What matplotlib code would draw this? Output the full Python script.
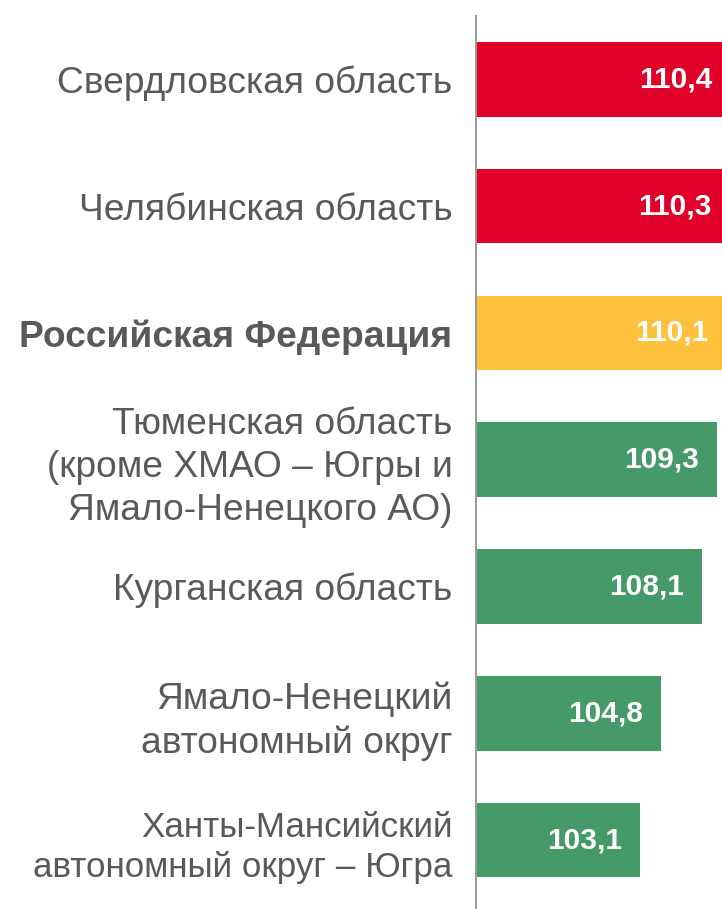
import matplotlib
matplotlib.use("Agg")
import matplotlib.pyplot as plt

# Data (top to bottom, as drawn)
regions = [
    "Свердловская область",
    "Челябинская область",
    "Российская Федерация",
    "Тюменская область\n(кроме ХМАО – Югры и\nЯмало-Ненецкого АО)",
    "Курганская область",
    "Ямало-Ненецкий\nавтономный округ",
    "Ханты-Мансийский\nавтономный округ – Югра",
]
values = [110.4, 110.3, 110.1, 109.3, 108.1, 104.8, 103.1]
labels = ["110,4", "110,3", "110,1", "109,3", "108,1", "104,8", "103,1"]

RED = "#E1002A"
YELLOW = "#FEC13D"
GREEN = "#469A67"
TEXT = "#595959"
colors = [RED, RED, YELLOW, GREEN, GREEN, GREEN, GREEN]

BASE = 89.8  # bars start here (axis is not zero-based)

plt.rcParams["font.family"] = ["Liberation Sans", "DejaVu Sans"]

W, H = 722, 909
fig = plt.figure(figsize=(W / 100, H / 100), dpi=100)
# axes: left at x=476px, right at figure edge, top at y=16px
ax = fig.add_axes([476 / W, 0, 1 - 476 / W, (H - 16) / H])

pos = list(range(len(values)))
ax.barh(pos, [v - BASE for v in values], left=BASE, height=0.588, color=colors)

ax.set_xlim(BASE, BASE + 246 / 12.35)
ax.set_ylim(6.544, -0.5)

for p, v, t in zip(pos, values, labels):
    ax.annotate(t, (v, p), xytext=(-18, 0), textcoords="offset pixels",
                ha="right", va="center", color="white", fontsize=21.5,
                fontweight="bold", annotation_clip=False)

ax.set_yticks(pos)
ax.set_yticklabels(regions, fontsize=26.7, color=TEXT, linespacing=1.3)
for tl, name in zip(ax.get_yticklabels(), regions):
    tl.set_multialignment("right")
    if name == "Российская Федерация":
        tl.set_fontweight("bold")
    if name.startswith("Ханты"):
        tl.set_fontsize(25.2)
ax.tick_params(axis="y", length=0, pad=17)
ax.set_xticks([])

for s in ["top", "right", "bottom"]:
    ax.spines[s].set_visible(False)
ax.spines["left"].set_color("#9a9a9a")
ax.spines["left"].set_linewidth(1.4)

fig.savefig("out.png", dpi=100)
